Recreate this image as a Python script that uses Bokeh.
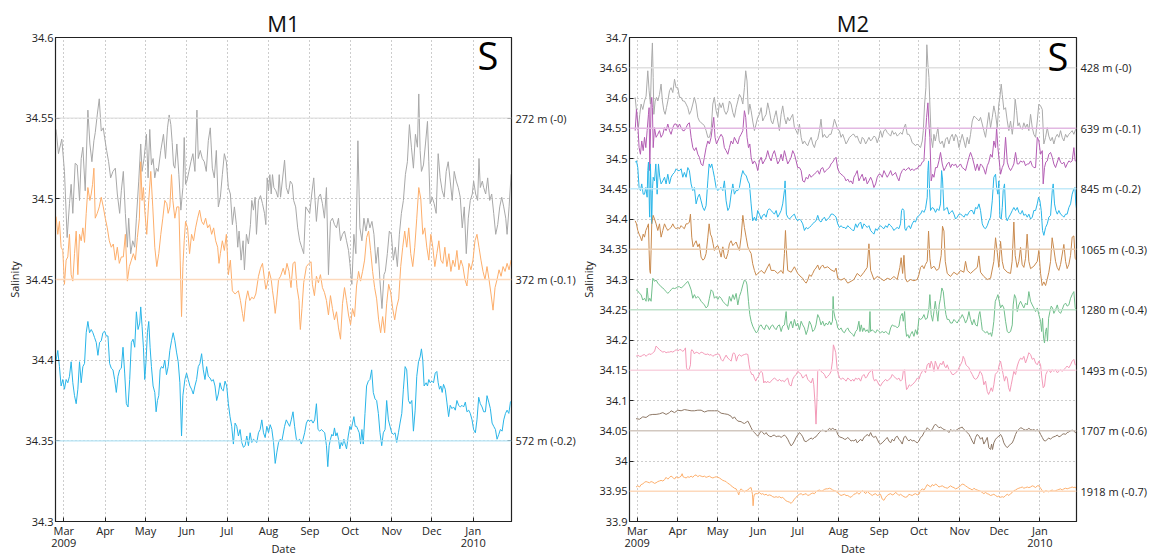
import pandas as pd
from bokeh.plotting import figure
from bokeh.layouts import row
from bokeh.models import Range1d, FixedTicker, CustomJSTickFormatter, LinearAxis, Span, Label
from bokeh.embed import file_html
from bokeh.resources import INLINE

FONT = "Open Sans"
base_date = "2009-03-01"          # day 0 of the day offsets below
month_starts = ["2009-03-01", "2009-04-01", "2009-05-01", "2009-06-01", "2009-07-01", "2009-08-01",
                "2009-09-01", "2009-10-01", "2009-11-01", "2009-12-01", "2010-01-01"]
month_names = ["Jan", "Feb", "Mar", "Apr", "May", "Jun", "Jul", "Aug", "Sep", "Oct", "Nov", "Dec"]

m1_xlim = (-6.2, 334.6)
m2_xlim = (-5.8, 333.8)
m1_ylim = (34.3, 34.6)
m2_ylim = (33.9, 34.7)
m1_yticks = [34.3, 34.35, 34.4, 34.45, 34.5, 34.55, 34.6]
m2_yticks = [33.9, 33.95, 34.0, 34.05, 34.1, 34.15, 34.2, 34.25, 34.3, 34.35, 34.4, 34.45, 34.5, 34.55, 34.6, 34.65, 34.7]

m1_depths = ["272 m (-0)", "372 m (-0.1)", "572 m (-0.2)"]
m1_levels = [34.55, 34.45, 34.35]
m2_depths = ["428 m (-0)", "639 m (-0.1)", "845 m (-0.2)", "1065 m (-0.3)", "1280 m (-0.4)",
             "1493 m (-0.5)", "1707 m (-0.6)", "1918 m (-0.7)"]
m2_levels = [34.65, 34.55, 34.45, 34.35, 34.25, 34.15, 34.05, 33.95]

# ---------------- M1 data: (day since 2009-03-01, salinity + offset) ----------------
m1_272 = [(-5.75,34.543),(-4,34.528),(-1.5,34.537),(0.5,34.517),(2.5,34.476),(4.25,34.497),(5.5,34.509),(6.75,34.491),
(8.5,34.522),(10,34.521),(11.75,34.499),(13,34.525),(14.25,34.532),(16,34.505),(18,34.555),(19.5,34.534),(21,34.523),
(22.5,34.536),(23.5,34.541),(25,34.552),(26.5,34.562),(28,34.542),(29.5,34.544),(30.5,34.538),(32,34.530),(33.5,34.523),
(35,34.513),(36.75,34.517),(38.5,34.519),(40,34.503),(41.75,34.491),(43,34.505),(44.5,34.517),(46,34.491),(47.5,34.470),
(48.5,34.488),(50,34.466),(51.5,34.474),(53,34.470),(54.25,34.488),(56,34.511),(57.5,34.534),(58.5,34.517),(60,34.525),
(61.75,34.540),(63,34.513),(64.25,34.543),(65.5,34.521),(66.75,34.525),(68,34.513),(69.25,34.519),(70.5,34.517),
(72.5,34.530),(74.5,34.540),(76,34.525),(77.5,34.544),(78.75,34.552),(80,34.546),(81,34.535),(82,34.521),(83,34.519),
(84.5,34.534),(86,34.515),(87.5,34.493),(89,34.507),(90,34.538),(91,34.509),(92,34.511),(93.5,34.517),(95,34.523),
(96.5,34.528),(98,34.517),(99.5,34.555),(100.5,34.525),(102,34.530),(103.5,34.525),(105,34.523),(106.5,34.517),
(108,34.536),(109.5,34.544),(111,34.519),(112.5,34.513),(114,34.530),(115.5,34.495),(117,34.501),(118.5,34.515),
(120,34.528),(121.5,34.523),(123,34.507),(124.5,34.503),(126,34.484),(127.5,34.495),(129,34.484),(130,34.470),
(131,34.480),(132.5,34.462),(134,34.474),(135,34.456),(136.5,34.478),(138,34.472),(139.5,34.484),(140.5,34.499),
(141.75,34.493),(143,34.501),(144,34.478),(145.5,34.499),(147,34.502),(148.5,34.497),(150,34.491),(151,34.484),
(152,34.513),(153,34.505),(154,34.515),(155,34.503),(156,34.515),(157,34.507),(158.5,34.505),(160,34.501),(161,34.515),
(162,34.501),(165,34.524),(166.3,34.507),(167.8,34.503),(169.3,34.511),(170.8,34.509),(171.8,34.499),(173.3,34.495),
(174.8,34.482),(176.3,34.474),(177.8,34.470),(179.3,34.466),(180.8,34.495),(182.3,34.493),(183.8,34.491),(185.3,34.503),
(186.8,34.513),(187.8,34.499),(188.8,34.486),(190.3,34.501),(191.8,34.503),(193.3,34.497),(194.8,34.488),(196.3,34.507),
(197.8,34.453),(199.3,34.486),(200.8,34.488),(202.3,34.484),(203.8,34.482),(205.3,34.488),(206.8,34.474),(208.3,34.478),
(209.8,34.480),(211.3,34.474),(212.8,34.468),(213.8,34.460),(215.3,34.447),(216.8,34.478),(218.3,34.466),(219.8,34.536),
(221.3,34.482),(222.8,34.474),(224.3,34.488),(225.8,34.480),(227.3,34.488),(228.8,34.482),(230.3,34.486),(231.8,34.478),
(233.3,34.460),(234.8,34.470),(236.3,34.449),(237.8,34.432),(239.3,34.453),(240.3,34.455),(241.8,34.466),(243.3,34.480),
(244.8,34.478),(246.3,34.462),(247.8,34.470),(249.3,34.458),(250.8,34.478),(252.3,34.491),(253.8,34.499),(255.3,34.515),
(256.8,34.523),(258.3,34.546),(259.8,34.532),(261.3,34.519),(262.8,34.540),(264.3,34.532),(265.3,34.565),(266.3,34.530),
(267.3,34.517),(268.8,34.521),(270.3,34.534),(271.8,34.548),(272.8,34.523),(273.8,34.497),(275.3,34.501),(276.8,34.497),
(278.3,34.491),(279.8,34.528),(281.3,34.513),(282.8,34.505),(284.3,34.501),(285.8,34.517),(287.3,34.523),(288.8,34.511),
(290.3,34.499),(291.8,34.517),(293.3,34.511),(294.8,34.507),(296.3,34.501),(297.8,34.482),(299.3,34.495),(300.8,34.466),
(302.3,34.488),(303.8,34.499),(305.3,34.503),(306.3,34.511),(307.8,34.503),(309.3,34.499),(310.3,34.525),(311.3,34.507),
(312.8,34.511),(313.8,34.507),(315.3,34.503),(316.8,34.513),(318.3,34.499),(319.8,34.503),(321.3,34.491),(322.8,34.478),
(324.3,34.484),(325.8,34.495),(327.3,34.501),(328.8,34.495),(330.3,34.488),(331.3,34.478),(332.8,34.495),(334.3,34.515),
(335.8,34.513)]

m1_372 = [(-5.75,34.489),(-4.5,34.478),(-3.25,34.486),(-2,34.470),(-0.75,34.468),(0.5,34.447),(1.75,34.462),(3,34.464),
(4.25,34.478),(5.5,34.453),(6.75,34.449),(8,34.466),(9.25,34.480),(10.5,34.453),(11.75,34.478),(13,34.474),(14.25,34.482),
(15.5,34.473),(16.75,34.491),(18,34.507),(19.5,34.499),(20.5,34.503),(21.5,34.509),(22.5,34.519),(23.5,34.488),(25,34.491),
(26.5,34.495),(28,34.501),(29.5,34.495),(31,34.488),(32.5,34.482),(34,34.474),(35.5,34.470),(37,34.472),(38.5,34.462),
(40,34.470),(41.5,34.460),(43,34.464),(44.5,34.464),(46,34.478),(47.5,34.449),(49,34.458),(50.5,34.462),(52,34.466),
(53.5,34.462),(55,34.476),(56.5,34.488),(57.5,34.523),(58.5,34.499),(59.5,34.507),(60.5,34.493),(62,34.478),(63.5,34.499),
(65,34.517),(66.5,34.495),(68,34.470),(69.5,34.458),(71,34.466),(72.5,34.478),(74,34.488),(75.5,34.499),(77,34.497),
(78,34.491),(79.25,34.495),(80.5,34.515),(81.5,34.499),(83,34.488),(84.5,34.495),(86,34.495),(87,34.462),(88,34.427),
(89,34.458),(90,34.474),(91,34.486),(92.5,34.482),(94,34.466),(95.5,34.478),(97,34.474),(98.5,34.482),(100,34.488),
(101.5,34.493),(103,34.486),(104.5,34.484),(106,34.488),(107.5,34.482),(109,34.484),(110.5,34.478),(112,34.482),
(113.5,34.474),(115,34.470),(116,34.460),(117,34.466),(118.5,34.474),(120,34.468),(121.5,34.478),(123,34.453),
(124.5,34.462),(126,34.443),(128,34.441),(130.5,34.443),(132,34.437),(133.5,34.429),(134.5,34.424),(136,34.437),
(137.5,34.443),(139,34.437),(140.5,34.439),(142,34.438),(143.5,34.441),(145.5,34.452),(147,34.457),(148.5,34.460),
(150,34.450),(151,34.444),(152,34.447),(153.5,34.455),(155,34.450),(156,34.443),(157,34.437),(158,34.429),(159,34.436),
(160.5,34.450),(162,34.452),(164,34.457),(165.3,34.453),(166.8,34.460),(168.3,34.455),(169.8,34.445),(171.3,34.460),
(172.8,34.461),(174.3,34.445),(175.8,34.437),(176.3,34.425),(176.8,34.419),(178,34.432),(179.3,34.448),(181.3,34.458),
(183.3,34.460),(184.8,34.461),(185.8,34.447),(187.3,34.440),(188.8,34.452),(190.3,34.448),(191.8,34.453),(193.3,34.445),
(194.8,34.442),(196.3,34.437),(197.8,34.428),(199.3,34.440),(200.8,34.432),(202.3,34.425),(203.8,34.430),(205.3,34.420),
(206.8,34.413),(208.3,34.435),(209.8,34.445),(211.3,34.437),(212.8,34.428),(214.3,34.422),(215.8,34.432),(217.3,34.427),
(218.8,34.446),(220.3,34.455),(221.8,34.449),(223.3,34.455),(224.8,34.462),(226.3,34.476),(227.8,34.480),(229.3,34.468),
(230.8,34.455),(232.3,34.445),(233.8,34.438),(235.3,34.425),(236.8,34.417),(238.3,34.427),(239.8,34.417),(241.3,34.435),
(242.8,34.447),(244.3,34.442),(245.8,34.432),(247.3,34.425),(248.8,34.433),(250.3,34.438),(251.8,34.458),(253.3,34.470),
(254.8,34.480),(256.3,34.470),(257.8,34.482),(259.3,34.466),(260.8,34.458),(262.3,34.470),(263.8,34.488),(265.3,34.507),
(266.8,34.500),(268.3,34.478),(269.8,34.482),(271.3,34.470),(272.8,34.462),(274.3,34.478),(275.8,34.470),(277.3,34.458),
(278.8,34.466),(280.3,34.474),(281.8,34.462),(283.3,34.460),(284.8,34.470),(286.3,34.458),(287.8,34.466),(289.3,34.455),
(290.8,34.462),(292.3,34.458),(293.8,34.468),(295.3,34.456),(296.8,34.462),(298.3,34.458),(299.8,34.450),(301.3,34.446),
(302.8,34.460),(304.3,34.456),(305.8,34.462),(307.3,34.474),(308.8,34.478),(310.3,34.470),(311.8,34.462),(313.3,34.455),
(314.8,34.450),(316.3,34.458),(317.8,34.450),(319.3,34.441),(320.8,34.431),(322.3,34.445),(323.8,34.450),(325.3,34.456),
(326.8,34.452),(328.3,34.458),(329.8,34.455),(331.3,34.460),(332.8,34.456),(334.3,34.462),(335.8,34.459)]

m1_572 = [(-5.75,34.400),(-4.5,34.406),(-3.25,34.396),(-2,34.384),(-0.75,34.388),(0.5,34.382),(1.75,34.388),(3,34.386),
(4.25,34.390),(5.5,34.399),(6.75,34.386),(8,34.378),(9.25,34.373),(10.5,34.382),(11.75,34.399),(13,34.386),(14.25,34.396),
(15.5,34.398),(16.75,34.417),(18,34.424),(19.25,34.417),(20.5,34.419),(21.75,34.417),(23,34.414),(24.25,34.411),
(25.5,34.403),(26.75,34.411),(28,34.412),(29.25,34.417),(30.5,34.418),(31.75,34.415),(33,34.415),(34.25,34.398),
(35.5,34.395),(36.75,34.394),(38,34.388),(39.25,34.380),(40.5,34.390),(41.75,34.394),(43,34.395),(44.25,34.408),
(45.5,34.392),(46.75,34.373),(48,34.371),(49.25,34.388),(50.5,34.411),(51.75,34.413),(53,34.408),(54.25,34.430),
(55.5,34.419),(56.75,34.423),(57.5,34.433),(58.5,34.421),(59.5,34.408),(60.5,34.388),(61.5,34.400),(62.5,34.417),
(63.5,34.424),(64.5,34.408),(65.5,34.396),(66.75,34.384),(68,34.380),(69,34.368),(70,34.375),(71,34.378),(72,34.394),
(73,34.396),(74.25,34.395),(75.5,34.400),(76.75,34.391),(78,34.396),(79.25,34.406),(80.5,34.412),(81.75,34.417),
(83,34.412),(84.25,34.405),(85.5,34.399),(86.75,34.386),(88,34.353),(89,34.378),(90.5,34.388),(91.75,34.392),(93,34.388),
(94.25,34.384),(95.5,34.382),(96.75,34.379),(98,34.384),(99.25,34.388),(100.5,34.396),(101.75,34.398),(103,34.404),
(104.25,34.394),(105.5,34.388),(106.75,34.396),(108,34.390),(109.25,34.389),(110.5,34.387),(111.75,34.388),(113,34.384),
(114.25,34.375),(115.5,34.379),(116.75,34.386),(118,34.382),(119.25,34.381),(120.5,34.387),(121.75,34.384),(123,34.373),
(124.25,34.365),(125.5,34.359),(126.75,34.348),(128,34.361),(129.25,34.359),(130.5,34.353),(131.75,34.357),(133,34.349),
(134.25,34.346),(135.5,34.347),(136.75,34.353),(138,34.347),(139.25,34.355),(140.5,34.349),(141.75,34.351),(143,34.350),
(144.25,34.349),(145.5,34.355),(146.75,34.357),(148,34.363),(149.25,34.355),(150.5,34.352),(151.75,34.359),(153,34.355),
(154.25,34.360),(155.5,34.357),(156.75,34.349),(158,34.336),(159.25,34.343),(160.5,34.349),(161.75,34.351),(163,34.350),
(165,34.359),(166.3,34.363),(167.5,34.361),(168.8,34.359),(170,34.363),(171.3,34.368),(172.5,34.359),(173.8,34.351),
(175,34.350),(176.3,34.351),(177.5,34.348),(178.8,34.351),(180,34.355),(181.3,34.361),(182.5,34.363),(183.8,34.362),
(185,34.363),(186.3,34.361),(187.5,34.363),(188.8,34.373),(190,34.357),(191.3,34.356),(192.5,34.357),(193.8,34.356),
(195,34.355),(196.3,34.347),(197.3,34.334),(198.3,34.347),(199.3,34.351),(200.3,34.354),(201.3,34.353),(202.3,34.358),
(203.3,34.353),(204.3,34.355),(205.3,34.351),(206.3,34.345),(207.3,34.349),(208.3,34.347),(209.3,34.351),(210.3,34.348),
(211.3,34.345),(212.6,34.353),(213.8,34.359),(214.8,34.357),(215.8,34.361),(216.8,34.365),(217.8,34.359),(218.8,34.359),
(219.8,34.357),(220.8,34.355),(221.8,34.348),(222.8,34.357),(223.8,34.348),(225.1,34.367),(226.3,34.384),(227.6,34.387),
(228.8,34.388),(230.1,34.394),(231.3,34.380),(232.6,34.376),(233.8,34.375),(235.1,34.367),(236.3,34.355),(237.6,34.347),
(238.8,34.355),(240.1,34.357),(241.3,34.375),(242.6,34.363),(243.8,34.359),(245.1,34.355),(246.3,34.354),(247.6,34.355),
(248.8,34.349),(250.1,34.355),(251.3,34.361),(252.6,34.367),(253.8,34.382),(255.1,34.396),(256.3,34.394),(257.6,34.375),
(258.8,34.373),(260.1,34.375),(261.3,34.356),(262.6,34.369),(263.8,34.390),(265.1,34.399),(266.3,34.402),(267.3,34.407),
(268.3,34.400),(269.3,34.384),(270.8,34.386),(271.8,34.384),(272.8,34.388),(273.8,34.386),(275.1,34.387),(276.3,34.386),
(277.6,34.392),(278.8,34.393),(279.8,34.386),(280.8,34.382),(281.8,34.384),(282.8,34.380),(283.8,34.385),(285.1,34.382),
(286.3,34.374),(287.6,34.365),(288.8,34.372),(290.1,34.370),(291.3,34.371),(292.6,34.369),(293.8,34.375),(295.1,34.372),
(296.3,34.371),(297.6,34.372),(298.8,34.371),(300.1,34.374),(301.3,34.368),(302.6,34.369),(303.8,34.367),(305.1,34.363),
(306.3,34.357),(307.6,34.355),(308.8,34.363),(310.1,34.377),(311.3,34.373),(312.6,34.371),(313.8,34.368),(315.1,34.368),
(316.3,34.378),(317.6,34.374),(318.8,34.370),(320.1,34.361),(321.3,34.359),(322.6,34.357),(323.8,34.351),(325.1,34.354),
(326.3,34.357),(327.6,34.356),(328.8,34.363),(330.1,34.367),(331.3,34.369),(332.6,34.367),(333.8,34.374),(335.8,34.376)]

# ---------------- M2 data ----------------
m2_428 = [(-1.5,34.601),(0.0,34.568),(1.0,34.551),(2.0,34.573),(3.0,34.590),(4.3,34.581),(5.6,34.595),(6.8,34.603),
(8.1,34.645),(9.1,34.612),(10.1,34.590),(11.1,34.666),(11.6,34.691),(12.2,34.634),(12.7,34.573),(13.7,34.595),(14.7,34.601),
(15.7,34.595),(17.0,34.606),(18.2,34.623),(19.2,34.595),(20.3,34.579),(21.3,34.573),(22.3,34.584),(23.3,34.595),(24.6,34.612),
(25.8,34.617),(27.1,34.609),(28.4,34.631),(29.6,34.617),(30.9,34.617),(32.2,34.601),(33.4,34.601),(34.7,34.595),(35.9,34.595),
(37.2,34.590),(38.5,34.584),(39.7,34.573),(41.0,34.579),(42.3,34.590),(43.5,34.601),(44.8,34.590),(46.1,34.568),(47.3,34.562),
(48.6,34.559),(49.9,34.557),(51.1,34.554),(52.4,34.546),(53.7,34.535),(54.9,34.535),(56.2,34.546),(57.5,34.590),(58.7,34.601),
(60.0,34.579),(61.3,34.568),(62.5,34.592),(63.8,34.584),(65.1,34.592),(66.3,34.579),(67.6,34.573),(68.9,34.579),(70.1,34.595),
(71.4,34.590),(72.7,34.576),(73.9,34.568),(75.2,34.584),(76.5,34.595),(77.7,34.606),(79.0,34.601),(80.3,34.590),(81.5,34.617),
(82.5,34.645),(83.5,34.628),(84.6,34.573),(85.6,34.590),(86.6,34.579),(87.8,34.562),(89.1,34.546),(90.4,34.557),(91.6,34.568),
(92.9,34.573),(94.2,34.584),(95.4,34.562),(96.7,34.568),(98.0,34.573),(99.2,34.592),(100.5,34.579),(101.8,34.562),
(103.0,34.557),(104.3,34.568),(105.6,34.579),(106.8,34.562),(108.1,34.546),(109.4,34.573),(110.6,34.587),(111.9,34.568),
(113.2,34.557),(114.4,34.568),(115.7,34.562),(117.0,34.568),(118.2,34.573),(119.5,34.551),(120.8,34.546),(122.0,34.540),
(123.3,34.557),(124.6,34.535),(125.8,34.524),(127.1,34.529),(128.4,34.524),(129.6,34.521),(130.9,34.529),(132.2,34.535),
(133.4,34.524),(134.7,34.518),(135.9,34.529),(137.2,34.532),(138.5,34.546),(139.7,34.565),(141.0,34.535),(142.3,34.540),
(143.5,34.535),(144.8,34.535),(146.1,34.540),(147.3,34.540),(148.6,34.551),(149.9,34.565),(151.1,34.557),(152.4,34.548),
(153.7,34.546),(154.9,34.535),(156.2,34.540),(157.5,34.532),(158.7,34.524),(160.0,34.529),(161.3,34.535),(162.5,34.537),
(163.8,34.540),(164.7,34.540),(166.0,34.535),(167.2,34.537),(168.5,34.529),(169.8,34.524),(171.0,34.535),(172.3,34.532),
(173.6,34.524),(174.8,34.529),(176.1,34.535),(177.4,34.529),(178.6,34.532),(179.9,34.537),(181.2,34.535),(182.4,34.526),
(183.7,34.535),(184.9,34.546),(186.2,34.535),(187.5,34.546),(188.8,34.548),(190.0,34.543),(191.3,34.540),(192.6,34.537),
(193.8,34.546),(195.1,34.540),(196.3,34.543),(197.6,34.537),(198.9,34.540),(200.1,34.543),(201.4,34.540),(202.7,34.551),
(203.9,34.557),(205.2,34.540),(206.5,34.540),(207.7,34.535),(209.0,34.526),(210.3,34.524),(211.5,34.521),(212.8,34.524),
(214.1,34.521),(215.3,34.518),(216.6,34.529),(217.4,34.546),(218.4,34.590),(219.4,34.617),(220.1,34.688),(220.9,34.656),
(221.7,34.634),(222.4,34.590),(223.4,34.535),(224.5,34.518),(225.5,34.540),(226.5,34.529),(227.5,34.540),(228.5,34.551),
(229.5,34.529),(230.5,34.524),(231.8,34.529),(233.1,34.518),(234.3,34.532),(235.6,34.535),(236.9,34.524),(238.1,34.535),
(239.4,34.540),(240.7,34.529),(241.9,34.540),(243.2,34.535),(244.5,34.518),(245.7,34.529),(247.0,34.540),(248.3,34.529),
(249.5,34.518),(250.8,34.535),(252.1,34.524),(253.3,34.540),(254.6,34.562),(255.9,34.570),(257.1,34.568),(258.4,34.565),
(259.7,34.562),(260.9,34.568),(262.2,34.557),(263.4,34.546),(264.7,34.535),(266.0,34.557),(267.2,34.576),(268.5,34.551),
(269.8,34.568),(271.0,34.587),(272.3,34.573),(273.6,34.551),(274.8,34.590),(275.6,34.601),(276.6,34.623),(277.4,34.606),
(278.6,34.581),(279.9,34.584),(281.2,34.562),(282.4,34.546),(283.7,34.562),(285.0,34.540),(286.2,34.562),(287.2,34.598),
(288.3,34.579),(289.3,34.554),(290.3,34.559),(291.3,34.551),(292.6,34.548),(293.8,34.559),(295.1,34.551),(296.4,34.557),
(297.6,34.546),(298.9,34.573),(300.2,34.551),(301.4,34.540),(302.7,34.535),(304.0,34.562),(305.2,34.590),(306.5,34.587),
(307.8,34.581),(309.0,34.524),(310.3,34.535),(311.6,34.551),(312.8,34.537),(314.1,34.529),(315.4,34.535),(316.6,34.524),
(317.9,34.535),(319.2,34.540),(320.4,34.535),(321.7,34.546),(322.9,34.535),(324.2,34.529),(325.5,34.540),(326.7,34.535),
(328.0,34.540),(329.3,34.543),(330.5,34.546),(331.8,34.540),(333.1,34.548),(333.8,34.546)]

m2_639 = [(-1.5,34.546),(-0.5,34.581),(0.5,34.557),(1.5,34.518),(2.5,34.507),(3.5,34.529),(4.6,34.513),(5.6,34.535),
(6.6,34.518),(7.6,34.546),(8.6,34.573),(9.1,34.584),(9.6,34.480),(10.6,34.590),(11.1,34.601),(11.6,34.584),(12.2,34.518),
(13.2,34.551),(14.4,34.535),(15.7,34.540),(17.0,34.546),(18.2,34.535),(19.5,34.540),(20.8,34.551),(22.0,34.546),(23.3,34.557),
(24.6,34.546),(25.8,34.540),(27.1,34.551),(28.4,34.557),(29.6,34.557),(30.9,34.551),(32.2,34.557),(33.4,34.551),(34.7,34.546),
(35.9,34.546),(37.2,34.551),(38.5,34.557),(39.7,34.559),(41.0,34.535),(42.3,34.518),(43.5,34.513),(44.8,34.518),(46.1,34.507),
(47.3,34.502),(48.6,34.491),(49.9,34.488),(51.1,34.502),(52.4,34.518),(53.7,34.529),(54.9,34.524),(56.2,34.535),(57.5,34.557),
(58.2,34.568),(59.2,34.535),(60.3,34.524),(61.3,34.529),(62.5,34.535),(63.8,34.540),(65.1,34.535),(66.3,34.518),(67.6,34.513),
(68.9,34.507),(70.1,34.518),(71.4,34.529),(72.7,34.524),(73.9,34.535),(75.2,34.529),(76.5,34.524),(77.7,34.535),(79.0,34.540),
(80.3,34.546),(81.5,34.579),(82.5,34.568),(83.5,34.535),(84.6,34.518),(85.6,34.524),(86.6,34.502),(87.8,34.491),(89.1,34.496),
(90.4,34.491),(91.6,34.480),(92.9,34.496),(94.2,34.502),(95.4,34.491),(96.7,34.496),(98.0,34.502),(99.2,34.513),(100.5,34.502),
(101.8,34.496),(103.0,34.507),(104.3,34.513),(105.6,34.502),(106.8,34.491),(108.1,34.496),(109.4,34.507),(110.6,34.496),
(111.9,34.513),(113.2,34.502),(114.4,34.491),(115.7,34.496),(117.0,34.502),(118.2,34.513),(119.5,34.507),(120.8,34.496),
(122.0,34.485),(123.3,34.485),(124.6,34.480),(125.8,34.463),(127.1,34.461),(128.4,34.469),(129.6,34.466),(130.9,34.474),
(132.2,34.469),(133.4,34.472),(134.7,34.474),(135.9,34.477),(137.2,34.480),(138.5,34.474),(139.7,34.483),(141.0,34.485),
(142.3,34.477),(143.5,34.480),(144.8,34.483),(146.1,34.485),(147.3,34.491),(148.6,34.494),(149.9,34.499),(151.1,34.502),
(152.4,34.483),(153.7,34.477),(154.9,34.474),(156.2,34.472),(157.5,34.469),(158.7,34.463),(160.0,34.466),(161.3,34.461),
(162.5,34.463),(163.8,34.458),(164.7,34.469),(166.0,34.474),(167.2,34.480),(168.5,34.463),(169.8,34.469),(171.0,34.474),
(172.3,34.463),(173.6,34.469),(174.8,34.458),(176.1,34.463),(177.4,34.469),(178.6,34.463),(179.9,34.452),(181.2,34.458),
(182.4,34.469),(183.7,34.474),(184.9,34.474),(186.2,34.469),(187.5,34.480),(188.8,34.474),(190.0,34.469),(191.3,34.474),
(192.6,34.480),(193.8,34.472),(195.1,34.474),(196.3,34.477),(197.6,34.469),(198.9,34.463),(200.1,34.474),(201.4,34.480),
(202.7,34.483),(203.9,34.480),(205.2,34.483),(206.5,34.485),(207.7,34.480),(209.0,34.483),(210.3,34.480),(211.5,34.483),
(212.8,34.483),(214.1,34.488),(215.3,34.488),(216.6,34.494),(217.9,34.496),(218.9,34.535),(219.9,34.568),(220.9,34.592),
(221.7,34.557),(222.4,34.535),(223.4,34.463),(224.5,34.474),(225.5,34.469),(226.7,34.485),(228.0,34.485),(229.3,34.496),
(230.5,34.510),(231.8,34.491),(233.1,34.480),(234.3,34.485),(235.6,34.491),(236.9,34.494),(238.1,34.485),(239.4,34.491),
(240.7,34.488),(241.9,34.491),(243.2,34.485),(244.5,34.488),(245.7,34.491),(247.0,34.485),(248.3,34.483),(249.5,34.480),
(250.8,34.491),(252.1,34.502),(253.3,34.510),(254.6,34.502),(255.9,34.491),(257.1,34.480),(258.4,34.491),(259.7,34.480),
(260.9,34.491),(262.2,34.488),(263.4,34.483),(264.7,34.474),(266.0,34.488),(267.2,34.494),(268.5,34.507),(269.8,34.502),
(271.0,34.529),(272.3,34.518),(273.1,34.551),(274.1,34.518),(275.1,34.496),(276.1,34.474),(277.4,34.485),(278.6,34.491),
(279.9,34.535),(281.2,34.494),(282.4,34.485),(283.7,34.480),(285.0,34.485),(286.2,34.491),(287.5,34.510),(288.8,34.491),
(290.0,34.491),(291.3,34.496),(292.6,34.494),(293.8,34.496),(295.1,34.488),(296.4,34.491),(297.6,34.491),(298.9,34.496),
(300.2,34.488),(301.4,34.485),(302.7,34.485),(304.0,34.535),(305.2,34.529),(306.5,34.507),(307.8,34.513),(308.5,34.458),
(309.5,34.485),(310.5,34.494),(311.6,34.496),(312.8,34.507),(314.1,34.510),(315.4,34.502),(316.6,34.491),(317.9,34.485),
(319.2,34.494),(320.4,34.502),(321.7,34.494),(322.9,34.491),(324.2,34.494),(325.5,34.485),(326.7,34.491),(328.0,34.496),
(329.3,34.494),(330.5,34.496),(331.8,34.518),(332.8,34.496),(333.8,34.496)]

m2_845 = [(-1.5,34.494),(-0.5,34.496),(0.5,34.485),(1.5,34.452),(2.5,34.447),(3.5,34.458),(4.6,34.441),(5.6,34.441),
(6.6,34.452),(7.6,34.436),(8.1,34.480),(8.6,34.494),(9.4,34.408),(9.6,34.403),(10.1,34.491),(10.6,34.447),(11.1,34.392),
(11.6,34.447),(12.2,34.469),(13.2,34.463),(14.2,34.491),(15.2,34.441),(16.2,34.491),(17.2,34.469),(18.2,34.458),(19.5,34.463),
(20.8,34.469),(22.0,34.458),(23.3,34.474),(24.6,34.458),(25.8,34.469),(27.1,34.474),(28.4,34.477),(29.6,34.483),(30.9,34.480),
(32.2,34.480),(33.4,34.483),(34.7,34.469),(35.9,34.477),(37.2,34.469),(38.5,34.485),(39.7,34.480),(41.0,34.458),(42.3,34.447),
(43.5,34.452),(44.8,34.425),(46.1,34.436),(47.3,34.441),(48.6,34.430),(49.9,34.419),(51.1,34.414),(52.4,34.422),(53.7,34.463),
(54.7,34.491),(55.7,34.485),(56.7,34.491),(57.7,34.480),(58.7,34.469),(60.0,34.452),(61.3,34.447),(62.5,34.450),(63.8,34.452),
(65.1,34.447),(66.3,34.463),(67.6,34.430),(68.9,34.414),(70.1,34.419),(71.4,34.441),(72.7,34.458),(73.9,34.441),(75.2,34.447),
(76.5,34.447),(77.7,34.452),(79.0,34.469),(80.3,34.480),(81.5,34.474),(82.8,34.472),(84.1,34.463),(85.3,34.458),(86.6,34.425),
(87.8,34.397),(89.1,34.403),(90.4,34.397),(91.6,34.414),(92.9,34.408),(94.2,34.400),(95.4,34.406),(96.7,34.408),(98.0,34.403),
(99.2,34.414),(100.5,34.417),(101.8,34.414),(103.0,34.411),(104.3,34.408),(105.6,34.414),(106.8,34.403),(108.1,34.408),
(109.4,34.414),(110.6,34.425),(111.9,34.447),(112.4,34.463),(113.4,34.408),(114.4,34.403),(115.7,34.400),(117.0,34.403),
(118.2,34.406),(119.5,34.408),(120.8,34.400),(122.0,34.397),(123.3,34.400),(124.6,34.397),(125.8,34.392),(127.1,34.381),
(128.4,34.386),(129.6,34.384),(130.9,34.386),(132.2,34.389),(133.4,34.392),(134.7,34.395),(135.9,34.397),(137.2,34.406),
(138.5,34.397),(139.7,34.395),(141.0,34.400),(142.3,34.403),(143.5,34.397),(144.8,34.400),(146.1,34.403),(147.3,34.408),
(148.6,34.408),(149.9,34.406),(151.1,34.403),(152.4,34.392),(153.7,34.386),(154.9,34.389),(156.2,34.386),(157.5,34.386),
(158.7,34.384),(160.0,34.389),(161.3,34.386),(162.5,34.384),(163.8,34.381),(164.7,34.381),(166.0,34.392),(167.2,34.386),
(168.5,34.392),(169.8,34.395),(171.0,34.384),(172.3,34.392),(173.6,34.389),(174.8,34.386),(176.1,34.389),(177.4,34.381),
(178.6,34.378),(179.9,34.375),(181.2,34.384),(182.4,34.381),(183.7,34.386),(184.9,34.389),(186.2,34.386),(187.5,34.384),
(188.8,34.389),(190.0,34.386),(191.3,34.392),(192.6,34.389),(193.8,34.386),(195.1,34.381),(196.3,34.384),(197.6,34.386),
(198.9,34.384),(200.1,34.392),(200.9,34.414),(201.7,34.417),(202.7,34.414),(203.4,34.384),(204.2,34.381),(205.2,34.386),
(206.5,34.389),(207.7,34.384),(209.0,34.392),(210.3,34.397),(211.5,34.395),(212.8,34.403),(214.1,34.406),(215.3,34.408),
(216.6,34.414),(217.9,34.411),(219.1,34.417),(220.4,34.436),(220.9,34.480),(221.4,34.496),(221.9,34.463),(222.9,34.414),
(224.2,34.419),(225.5,34.417),(226.7,34.411),(228.0,34.417),(229.3,34.414),(230.5,34.425),(231.3,34.480),(232.0,34.466),
(233.1,34.414),(234.3,34.417),(235.6,34.419),(236.9,34.408),(238.1,34.411),(239.4,34.414),(240.7,34.408),(241.9,34.400),
(243.2,34.403),(244.5,34.408),(245.7,34.408),(247.0,34.406),(248.3,34.403),(249.5,34.408),(250.8,34.406),(252.1,34.411),
(253.3,34.414),(254.6,34.414),(255.9,34.408),(257.1,34.419),(258.4,34.417),(259.7,34.425),(260.9,34.414),(262.2,34.392),
(263.4,34.386),(264.7,34.384),(266.0,34.389),(267.2,34.397),(268.5,34.403),(269.8,34.430),(271.0,34.469),(272.3,34.474),
(273.1,34.452),(274.1,34.441),(274.8,34.463),(275.6,34.403),(276.6,34.400),(277.4,34.419),(278.1,34.447),(279.1,34.458),
(280.2,34.403),(281.2,34.397),(282.4,34.403),(283.7,34.408),(285.0,34.414),(286.2,34.419),(287.5,34.414),(288.8,34.419),
(290.0,34.411),(291.3,34.408),(292.6,34.414),(293.8,34.406),(295.1,34.408),(296.4,34.403),(297.6,34.408),(298.9,34.400),
(300.2,34.403),(301.4,34.414),(302.7,34.414),(304.0,34.425),(305.0,34.436),(306.0,34.430),(307.0,34.414),(308.0,34.381),
(309.0,34.373),(310.3,34.386),(311.6,34.392),(312.8,34.403),(314.1,34.406),(315.4,34.447),(316.1,34.458),(317.1,34.425),
(318.1,34.414),(319.2,34.408),(320.4,34.414),(321.7,34.408),(322.9,34.406),(324.2,34.403),(325.5,34.408),(326.7,34.408),
(328.0,34.419),(329.3,34.425),(330.5,34.441),(331.8,34.450),(332.6,34.452),(333.3,34.425),(333.8,34.417)]

m2_1065 = [(-1.5,34.397),(-0.5,34.392),(0.5,34.381),(1.5,34.375),(2.5,34.370),(3.5,34.364),(4.6,34.375),(5.6,34.370),
(6.6,34.381),(7.6,34.386),(8.6,34.392),(9.1,34.348),(9.6,34.315),(10.1,34.310),(10.6,34.348),(11.1,34.392),(12.2,34.406),
(13.2,34.400),(14.4,34.392),(15.7,34.381),(17.0,34.392),(18.2,34.370),(19.5,34.381),(20.8,34.392),(22.0,34.386),(23.3,34.381),
(24.6,34.384),(25.8,34.386),(27.1,34.392),(28.4,34.386),(29.6,34.384),(30.9,34.386),(32.2,34.384),(33.4,34.389),(34.7,34.386),
(35.9,34.384),(37.2,34.392),(38.5,34.392),(39.7,34.395),(40.5,34.408),(41.5,34.370),(42.5,34.354),(43.5,34.359),(44.8,34.364),
(46.1,34.354),(47.3,34.359),(48.6,34.337),(49.9,34.332),(51.1,34.334),(52.4,34.343),(53.7,34.370),(54.7,34.392),(55.7,34.375),
(56.7,34.370),(57.7,34.359),(58.7,34.348),(60.0,34.354),(61.3,34.356),(62.5,34.348),(63.8,34.337),(65.1,34.354),(66.3,34.337),
(67.6,34.334),(68.9,34.343),(70.1,34.359),(71.4,34.364),(72.7,34.356),(73.9,34.359),(75.2,34.362),(76.5,34.354),(77.7,34.348),
(79.0,34.370),(80.3,34.406),(81.5,34.386),(82.8,34.370),(84.1,34.354),(85.3,34.348),(86.6,34.343),(87.8,34.326),(89.1,34.315),
(90.4,34.307),(91.6,34.310),(92.9,34.312),(94.2,34.315),(96.7,34.310),(99.2,34.321),(100.5,34.326),(101.8,34.315),
(104.3,34.315),(106.8,34.310),(109.4,34.315),(110.9,34.310),(111.9,34.343),(112.7,34.381),(113.4,34.348),(114.4,34.315),
(117.0,34.312),(119.5,34.321),(122.0,34.310),(124.6,34.304),(125.8,34.302),(127.1,34.297),(128.4,34.294),(129.6,34.299),
(130.9,34.308),(132.2,34.305),(133.4,34.310),(134.7,34.316),(135.9,34.319),(137.2,34.324),(138.5,34.316),(139.7,34.321),
(141.0,34.324),(142.3,34.319),(144.8,34.321),(147.3,34.316),(149.9,34.313),(151.1,34.319),(152.4,34.302),(154.9,34.299),
(157.5,34.302),(160.0,34.294),(162.5,34.297),(164.7,34.300),(167.2,34.310),(169.8,34.305),(172.3,34.312),(174.8,34.320),
(176.1,34.359),(177.4,34.315),(179.9,34.300),(182.4,34.305),(184.9,34.302),(187.5,34.298),(190.0,34.302),(192.5,34.300),
(195.1,34.305),(197.6,34.300),(199.6,34.320),(200.6,34.336),(201.7,34.310),(202.7,34.340),(203.7,34.302),(205.2,34.296),
(207.7,34.300),(210.3,34.298),(212.8,34.300),(214.1,34.308),(215.3,34.320),(216.6,34.323),(217.9,34.318),(219.1,34.325),
(220.4,34.330),(221.4,34.380),(222.4,34.335),(223.4,34.318),(225.5,34.322),(227.5,34.315),(229.3,34.318),(231.0,34.340),
(232.0,34.388),(233.1,34.380),(234.1,34.330),(235.6,34.310),(238.1,34.305),(240.6,34.312),(243.2,34.308),(245.7,34.315),
(248.2,34.312),(249.5,34.330),(250.8,34.315),(253.3,34.310),(255.8,34.315),(258.4,34.320),(259.6,34.339),(260.9,34.312),
(263.4,34.305),(266.0,34.300),(268.5,34.302),(271.0,34.330),(272.3,34.369),(273.6,34.345),(274.8,34.320),(276.1,34.363),
(277.4,34.330),(278.6,34.318),(281.2,34.312),(283.7,34.310),(284.9,34.330),(286.2,34.395),(287.2,34.340),(288.7,34.320),
(290.0,34.330),(291.3,34.353),(292.5,34.325),(293.8,34.320),(295.1,34.335),(296.3,34.375),(297.6,34.330),(298.9,34.318),
(301.4,34.322),(304.0,34.330),(305.2,34.348),(306.5,34.310),(307.7,34.290),(309.0,34.296),(310.3,34.290),(311.5,34.300),
(312.8,34.312),(314.1,34.330),(315.3,34.369),(316.6,34.350),(317.9,34.330),(319.1,34.320),(320.4,34.315),(321.7,34.325),
(324.2,34.358),(325.5,34.330),(326.7,34.318),(328.0,34.325),(329.3,34.340),(330.5,34.370),(331.8,34.372),(332.8,34.335),
(333.8,34.332)]

m2_1280 = [(-0.8,34.283),(0.5,34.281),(1.8,34.277),(3.0,34.275),(4.3,34.266),(5.6,34.269),(6.8,34.264),(7.6,34.286),
(8.6,34.264),(9.6,34.269),(10.6,34.264),(11.9,34.302),(13.2,34.297),(14.4,34.299),(15.7,34.294),(17.0,34.291),(18.2,34.288),
(19.5,34.286),(20.8,34.283),(22.0,34.280),(23.3,34.277),(24.6,34.280),(25.8,34.283),(27.1,34.286),(28.4,34.285),(29.6,34.286),
(30.9,34.288),(32.2,34.288),(33.4,34.286),(34.7,34.288),(35.9,34.291),(37.2,34.294),(38.5,34.297),(39.7,34.291),(41.0,34.283),
(42.3,34.269),(43.5,34.275),(44.8,34.269),(46.1,34.272),(47.3,34.269),(48.6,34.264),(49.9,34.261),(51.1,34.258),(52.4,34.253),
(53.7,34.256),(54.9,34.269),(56.2,34.283),(57.5,34.280),(58.7,34.269),(60.0,34.272),(61.3,34.267),(62.5,34.272),(63.8,34.269),
(65.1,34.264),(66.3,34.261),(67.6,34.258),(68.9,34.256),(70.1,34.272),(71.4,34.264),(72.7,34.275),(73.9,34.267),(75.2,34.277),
(76.5,34.258),(77.7,34.272),(79.0,34.280),(80.3,34.291),(81.5,34.299),(82.8,34.297),(83.5,34.291),(84.6,34.264),(85.6,34.242),
(86.6,34.231),(87.8,34.223),(89.1,34.217),(90.4,34.212),(91.6,34.214),(92.9,34.223),(94.2,34.225),(95.4,34.220),(96.7,34.217),
(98.0,34.225),(99.2,34.223),(100.5,34.217),(101.8,34.223),(103.0,34.225),(104.3,34.220),(105.6,34.217),(106.8,34.223),
(108.1,34.225),(109.4,34.214),(110.6,34.223),(111.9,34.225),(113.2,34.247),(113.9,34.225),(115.0,34.217),(115.7,34.225),
(117.0,34.231),(118.2,34.220),(119.5,34.234),(120.8,34.223),(122.0,34.228),(123.3,34.217),(124.6,34.231),(125.8,34.225),
(127.1,34.220),(128.4,34.209),(129.6,34.217),(130.9,34.231),(132.2,34.225),(133.4,34.214),(134.7,34.217),(135.9,34.225),
(137.2,34.242),(138.5,34.236),(139.7,34.225),(141.0,34.231),(142.3,34.223),(143.5,34.228),(144.8,34.225),(146.1,34.231),
(147.3,34.225),(148.4,34.231),(148.9,34.272),(149.4,34.247),(150.4,34.236),(151.4,34.231),(152.4,34.220),(153.7,34.217),
(154.9,34.220),(156.2,34.214),(157.5,34.212),(158.7,34.217),(160.0,34.220),(161.3,34.214),(162.5,34.212),(163.8,34.209),
(164.7,34.206),(166.0,34.214),(167.2,34.217),(168.5,34.231),(169.3,34.214),(170.3,34.225),(171.3,34.214),(172.3,34.220),
(173.6,34.214),(174.8,34.217),(176.1,34.212),(176.9,34.247),(177.4,34.214),(178.6,34.217),(179.9,34.214),(181.2,34.212),
(182.4,34.217),(183.7,34.214),(184.9,34.212),(186.2,34.214),(187.5,34.212),(188.8,34.214),(190.0,34.212),(191.3,34.209),
(192.6,34.220),(193.8,34.225),(195.1,34.223),(196.3,34.223),(197.6,34.220),(198.9,34.223),(200.1,34.239),(201.4,34.244),
(202.2,34.231),(203.2,34.247),(203.9,34.220),(204.7,34.206),(205.7,34.209),(206.7,34.203),(207.7,34.209),(209.0,34.214),
(210.3,34.206),(211.5,34.217),(212.8,34.209),(214.1,34.236),(215.3,34.234),(216.6,34.236),(217.9,34.242),(219.1,34.234),
(220.4,34.236),(221.7,34.253),(222.4,34.275),(223.4,34.242),(224.5,34.231),(225.5,34.247),(226.5,34.264),(227.5,34.247),
(228.5,34.231),(229.5,34.258),(230.5,34.269),(231.5,34.286),(232.6,34.280),(233.6,34.258),(234.6,34.242),(235.6,34.234),
(236.9,34.234),(238.1,34.228),(239.4,34.228),(240.7,34.234),(241.9,34.231),(243.2,34.228),(244.5,34.234),(245.7,34.236),
(247.0,34.242),(248.3,34.236),(249.5,34.228),(250.8,34.234),(252.1,34.247),(253.3,34.234),(254.6,34.225),(255.9,34.234),
(257.1,34.225),(258.4,34.223),(259.7,34.242),(260.4,34.247),(261.4,34.231),(262.2,34.217),(263.4,34.214),(264.7,34.212),
(266.0,34.214),(267.2,34.209),(268.5,34.212),(269.3,34.206),(270.0,34.214),(271.0,34.231),(272.1,34.264),(273.1,34.269),
(274.1,34.275),(275.1,34.264),(276.1,34.253),(277.4,34.258),(278.6,34.253),(279.9,34.231),(281.2,34.214),(282.4,34.212),
(283.7,34.214),(285.0,34.225),(285.7,34.258),(286.7,34.275),(287.8,34.269),(288.8,34.247),(290.0,34.258),(291.3,34.264),
(292.6,34.258),(293.8,34.253),(295.1,34.261),(296.4,34.258),(297.6,34.280),(298.9,34.264),(300.2,34.258),(301.4,34.253),
(302.7,34.247),(304.0,34.253),(305.2,34.242),(306.5,34.231),(307.3,34.214),(308.0,34.236),(308.8,34.203),(309.5,34.195),
(310.3,34.214),(311.0,34.220),(311.8,34.198),(312.6,34.236),(313.6,34.247),(314.6,34.256),(315.6,34.253),(316.6,34.244),
(317.9,34.250),(319.2,34.258),(320.4,34.247),(321.7,34.244),(322.9,34.250),(324.2,34.258),(325.5,34.261),(326.7,34.256),
(328.0,34.258),(329.3,34.269),(330.5,34.275),(331.8,34.280),(332.8,34.253),(333.8,34.247)]

m2_1493 = [(-0.8,34.173),(0.5,34.175),(1.8,34.173),(3.0,34.173),(4.3,34.175),(5.6,34.176),(6.8,34.173),(8.1,34.176),
(9.4,34.177),(10.6,34.176),(11.9,34.179),(13.2,34.181),(14.4,34.190),(15.7,34.187),(17.0,34.184),(18.2,34.182),(19.5,34.180),
(20.8,34.181),(22.0,34.179),(23.3,34.180),(24.6,34.180),(25.8,34.181),(27.1,34.180),(28.4,34.182),(29.6,34.184),(30.9,34.182),
(32.2,34.184),(33.4,34.184),(34.7,34.181),(35.9,34.184),(36.7,34.187),(37.5,34.154),(38.5,34.150),(39.5,34.151),(40.5,34.159),
(41.0,34.181),(41.5,34.184),(42.5,34.182),(43.5,34.177),(44.8,34.180),(46.1,34.179),(47.3,34.177),(48.6,34.180),(49.9,34.179),
(51.1,34.177),(52.4,34.176),(53.7,34.177),(54.9,34.175),(56.2,34.176),(57.5,34.173),(58.7,34.175),(60.0,34.176),(61.3,34.177),
(62.5,34.176),(63.8,34.168),(65.1,34.165),(66.3,34.170),(67.6,34.175),(68.9,34.170),(70.1,34.168),(71.4,34.165),(72.7,34.177),
(73.4,34.179),(74.4,34.176),(75.4,34.165),(76.5,34.173),(77.7,34.176),(79.0,34.173),(80.3,34.175),(81.5,34.176),(82.8,34.177),
(84.1,34.176),(85.1,34.159),(86.1,34.148),(87.1,34.143),(88.1,34.143),(89.1,34.137),(90.1,34.132),(91.1,34.137),(92.2,34.140),
(93.2,34.146),(94.2,34.148),(95.2,34.146),(96.2,34.129),(97.2,34.132),(98.2,34.129),(99.2,34.132),(100.5,34.129),
(101.8,34.132),(103.0,34.135),(104.3,34.137),(105.6,34.135),(106.8,34.132),(108.1,34.135),(109.4,34.132),(110.6,34.133),
(111.9,34.131),(113.2,34.135),(114.4,34.137),(115.7,34.126),(117.0,34.124),(118.2,34.135),(119.5,34.140),(120.8,34.143),
(122.0,34.148),(123.3,34.146),(124.6,34.143),(125.8,34.137),(127.1,34.140),(128.4,34.143),(129.6,34.135),(130.9,34.132),
(132.2,34.129),(133.4,34.137),(134.2,34.126),(135.2,34.094),(135.9,34.061),(136.7,34.105),(137.2,34.148),(138.5,34.151),
(139.7,34.148),(141.0,34.146),(142.3,34.143),(143.5,34.137),(144.8,34.140),(146.1,34.143),(147.3,34.148),(148.4,34.165),
(149.1,34.192),(149.9,34.187),(150.9,34.179),(151.9,34.154),(152.9,34.143),(153.9,34.137),(154.9,34.135),(156.2,34.137),
(157.5,34.135),(158.7,34.132),(160.0,34.137),(161.3,34.135),(162.5,34.132),(163.8,34.135),(164.7,34.132),(166.0,34.137),
(167.2,34.135),(168.5,34.137),(169.8,34.132),(171.0,34.140),(172.3,34.143),(173.6,34.137),(174.8,34.140),(176.1,34.146),
(177.4,34.148),(178.6,34.151),(179.4,34.137),(180.4,34.132),(181.4,34.135),(182.4,34.132),(183.7,34.126),(184.9,34.124),
(186.2,34.129),(187.5,34.132),(188.8,34.135),(190.0,34.132),(191.3,34.135),(192.6,34.137),(193.8,34.143),(195.1,34.140),
(196.3,34.137),(197.6,34.135),(198.9,34.137),(200.1,34.132),(201.4,34.135),(202.2,34.148),(203.2,34.151),(203.9,34.132),
(204.7,34.118),(205.7,34.121),(206.7,34.126),(207.7,34.124),(209.0,34.126),(210.3,34.129),(211.5,34.132),(212.8,34.137),
(214.1,34.135),(215.3,34.143),(216.6,34.148),(217.9,34.151),(219.1,34.146),(220.4,34.159),(221.7,34.162),(222.4,34.154),
(223.4,34.165),(224.5,34.159),(225.5,34.148),(226.5,34.165),(227.5,34.159),(228.5,34.151),(229.5,34.157),(230.5,34.162),
(231.5,34.159),(232.6,34.165),(233.6,34.157),(234.6,34.154),(235.6,34.159),(236.9,34.151),(238.1,34.148),(239.4,34.143),
(240.7,34.143),(241.9,34.146),(243.2,34.148),(244.5,34.154),(245.7,34.159),(247.0,34.165),(247.7,34.173),(248.8,34.168),
(249.8,34.159),(250.8,34.157),(252.1,34.154),(253.3,34.148),(254.6,34.143),(255.9,34.137),(257.1,34.135),(258.4,34.137),
(259.7,34.143),(260.4,34.148),(261.4,34.146),(262.4,34.140),(263.4,34.126),(264.7,34.132),(266.0,34.115),(267.0,34.110),
(268.0,34.115),(269.0,34.121),(270.0,34.115),(271.0,34.126),(272.1,34.143),(273.1,34.146),(274.1,34.148),(275.1,34.159),
(276.1,34.165),(277.1,34.154),(278.1,34.143),(279.1,34.132),(280.2,34.140),(281.2,34.137),(282.2,34.121),(283.2,34.115),
(284.2,34.126),(285.2,34.137),(286.2,34.148),(287.5,34.143),(288.8,34.157),(290.0,34.165),(291.3,34.170),(292.6,34.168),
(293.8,34.173),(295.1,34.162),(296.4,34.170),(297.6,34.179),(298.9,34.176),(300.2,34.168),(301.4,34.170),(302.7,34.162),
(304.0,34.159),(305.2,34.165),(306.5,34.159),(307.5,34.137),(308.5,34.121),(309.5,34.124),(310.5,34.143),(311.6,34.148),
(312.8,34.151),(314.1,34.146),(315.4,34.151),(316.6,34.148),(317.9,34.151),(319.2,34.146),(320.4,34.148),(321.7,34.151),
(322.9,34.148),(324.2,34.151),(325.5,34.154),(326.7,34.157),(328.0,34.154),(329.3,34.159),(330.5,34.165),(331.8,34.168),
(332.8,34.159),(333.8,34.159)]

m2_1707 = [(-0.8,34.070),(1.8,34.069),(4.3,34.073),(6.8,34.072),(9.4,34.076),(11.9,34.077),(14.4,34.077),(17.0,34.078),
(19.5,34.080),(22.0,34.077),(24.6,34.080),(25.8,34.083),(28.4,34.080),(30.9,34.084),(33.4,34.083),(35.9,34.085),(38.5,34.084),
(41.0,34.083),(43.5,34.083),(46.1,34.084),(48.6,34.084),(51.1,34.081),(53.7,34.083),(56.2,34.083),(58.7,34.083),(61.3,34.083),
(63.8,34.079),(66.3,34.078),(68.9,34.077),(71.4,34.074),(72.7,34.070),(73.9,34.073),(75.2,34.069),(76.5,34.066),(79.0,34.065),
(80.3,34.063),(81.5,34.062),(82.8,34.064),(84.1,34.066),(85.3,34.061),(86.6,34.055),(87.8,34.050),(89.1,34.047),(90.4,34.044),
(91.6,34.041),(92.9,34.045),(94.2,34.050),(95.4,34.047),(96.7,34.044),(98.0,34.047),(99.2,34.043),(100.5,34.041),
(101.8,34.040),(103.0,34.042),(104.3,34.043),(105.6,34.040),(106.8,34.041),(108.1,34.041),(109.4,34.039),(110.6,34.041),
(111.9,34.043),(113.2,34.040),(114.4,34.036),(115.7,34.030),(117.0,34.025),(118.2,34.028),(119.5,34.033),(120.8,34.039),
(122.0,34.043),(123.3,34.047),(124.6,34.044),(125.8,34.040),(127.1,34.033),(128.4,34.032),(129.6,34.034),(130.9,34.036),
(132.2,34.038),(133.4,34.036),(134.7,34.039),(135.9,34.040),(137.2,34.044),(138.5,34.047),(139.7,34.050),(141.0,34.051),
(142.3,34.050),(143.5,34.048),(144.8,34.051),(146.1,34.054),(147.3,34.052),(148.6,34.054),(149.9,34.052),(151.1,34.052),
(152.4,34.044),(153.7,34.040),(154.9,34.039),(156.2,34.038),(157.5,34.036),(158.7,34.036),(160.0,34.039),(161.3,34.036),
(162.5,34.033),(163.8,34.034),(164.7,34.033),(166.0,34.036),(167.2,34.030),(168.5,34.033),(169.8,34.036),(171.0,34.033),
(172.3,34.039),(173.6,34.041),(174.8,34.044),(176.1,34.041),(177.4,34.047),(178.6,34.041),(179.9,34.039),(181.2,34.041),
(182.4,34.036),(183.7,34.030),(184.9,34.028),(186.2,34.030),(187.5,34.033),(188.8,34.036),(190.0,34.039),(191.3,34.033),
(192.6,34.030),(193.8,34.036),(195.1,34.033),(196.3,34.039),(197.6,34.041),(198.9,34.036),(200.1,34.033),(201.4,34.028),
(202.7,34.039),(203.9,34.041),(205.2,34.036),(206.5,34.033),(207.7,34.036),(209.0,34.033),(210.3,34.034),(211.5,34.032),
(212.8,34.030),(214.1,34.033),(215.3,34.039),(216.6,34.041),(217.9,34.047),(219.1,34.050),(220.4,34.055),(221.7,34.052),
(222.9,34.050),(224.2,34.052),(225.5,34.058),(226.7,34.061),(228.0,34.058),(229.3,34.055),(230.5,34.056),(231.8,34.054),
(233.1,34.052),(234.3,34.051),(235.6,34.050),(236.9,34.047),(238.1,34.052),(239.4,34.050),(240.7,34.051),(241.9,34.050),
(243.2,34.052),(244.5,34.054),(245.7,34.055),(247.0,34.056),(248.3,34.052),(249.5,34.050),(250.8,34.047),(252.1,34.044),
(253.3,34.039),(254.6,34.033),(255.9,34.028),(257.1,34.039),(258.4,34.044),(259.7,34.041),(260.9,34.036),(262.2,34.039),
(263.4,34.028),(264.7,34.033),(266.0,34.039),(267.2,34.022),(268.5,34.019),(269.3,34.028),(270.0,34.019),(271.0,34.030),
(272.3,34.036),(273.6,34.039),(274.8,34.041),(276.1,34.044),(277.4,34.039),(278.6,34.030),(279.9,34.025),(281.2,34.022),
(282.4,34.025),(283.7,34.028),(285.0,34.030),(286.2,34.036),(287.5,34.044),(288.8,34.050),(290.0,34.052),(291.3,34.055),
(292.6,34.054),(293.8,34.052),(295.1,34.051),(296.4,34.052),(297.6,34.054),(298.9,34.052),(300.2,34.051),(301.4,34.052),
(302.7,34.050),(304.0,34.052),(305.2,34.050),(306.5,34.044),(307.8,34.039),(309.0,34.034),(310.3,34.033),(311.6,34.036),
(312.8,34.038),(314.1,34.036),(315.4,34.039),(316.6,34.040),(317.9,34.041),(319.2,34.043),(320.4,34.040),(321.7,34.041),
(322.9,34.044),(324.2,34.045),(325.5,34.044),(326.7,34.047),(328.0,34.048),(329.3,34.050),(330.5,34.051),(331.8,34.050),
(332.8,34.047),(333.8,34.047)]

m2_1918 = [(-0.8,33.957),(0.5,33.959),(1.8,33.957),(3.0,33.961),(4.3,33.962),(5.6,33.965),(6.8,33.966),(8.1,33.965),
(9.4,33.964),(10.6,33.966),(11.9,33.965),(13.2,33.963),(14.4,33.964),(15.7,33.966),(17.0,33.967),(18.2,33.968),(19.5,33.967),
(20.8,33.969),(22.0,33.973),(23.3,33.970),(24.6,33.973),(25.8,33.975),(27.1,33.973),(28.4,33.970),(29.6,33.974),(30.9,33.972),
(32.2,33.973),(33.4,33.975),(34.2,33.979),(34.9,33.974),(35.9,33.973),(37.2,33.972),(38.5,33.974),(39.7,33.973),(41.0,33.975),
(42.3,33.973),(43.5,33.976),(44.8,33.977),(46.1,33.974),(47.3,33.976),(48.6,33.975),(49.9,33.974),(51.1,33.975),(52.4,33.973),
(53.7,33.974),(54.9,33.975),(56.2,33.973),(57.5,33.972),(58.7,33.973),(60.0,33.974),(61.3,33.973),(62.5,33.972),(63.8,33.970),
(65.1,33.968),(66.3,33.967),(67.6,33.966),(68.9,33.963),(70.1,33.962),(71.4,33.959),(72.7,33.957),(73.9,33.955),(75.2,33.954),
(76.5,33.948),(77.2,33.944),(78.0,33.951),(79.0,33.954),(80.3,33.951),(81.5,33.949),(82.8,33.951),(84.1,33.952),(85.3,33.955),
(86.6,33.956),(87.6,33.945),(88.1,33.926),(88.6,33.940),(89.1,33.945),(90.4,33.946),(91.6,33.946),(92.9,33.948),(94.2,33.945),
(95.4,33.946),(96.7,33.944),(98.0,33.945),(99.2,33.943),(100.5,33.944),(101.8,33.943),(103.0,33.941),(104.3,33.940),
(105.6,33.941),(106.8,33.940),(108.1,33.941),(109.4,33.939),(110.6,33.940),(111.9,33.937),(113.2,33.934),(114.4,33.933),
(115.7,33.932),(117.0,33.930),(118.2,33.933),(119.5,33.937),(120.8,33.940),(122.0,33.943),(123.3,33.945),(124.6,33.946),
(125.8,33.944),(127.1,33.945),(128.4,33.946),(129.6,33.943),(130.9,33.944),(132.2,33.946),(133.4,33.947),(134.7,33.946),
(135.9,33.949),(137.2,33.951),(138.5,33.952),(139.7,33.950),(141.0,33.951),(142.3,33.953),(143.5,33.954),(144.8,33.954),
(146.1,33.955),(147.3,33.954),(148.6,33.952),(149.9,33.951),(151.1,33.950),(152.4,33.947),(153.7,33.945),(154.9,33.943),
(156.2,33.944),(157.5,33.945),(158.7,33.943),(160.0,33.943),(161.3,33.941),(162.5,33.940),(163.8,33.943),(164.7,33.945),
(166.0,33.946),(167.2,33.948),(168.5,33.945),(169.8,33.948),(171.0,33.951),(172.3,33.949),(173.6,33.946),(174.8,33.950),
(176.1,33.947),(177.4,33.945),(178.6,33.943),(179.9,33.945),(181.2,33.946),(182.4,33.943),(183.7,33.944),(184.9,33.945),
(186.2,33.937),(187.5,33.935),(188.8,33.940),(190.0,33.943),(191.3,33.945),(192.6,33.946),(193.8,33.944),(195.1,33.945),
(196.3,33.948),(197.6,33.946),(198.9,33.943),(200.1,33.945),(201.4,33.943),(202.7,33.941),(203.9,33.940),(205.2,33.941),
(206.5,33.945),(207.7,33.944),(209.0,33.943),(210.3,33.945),(211.5,33.946),(212.8,33.944),(214.1,33.945),(215.3,33.951),
(216.6,33.954),(217.9,33.952),(219.1,33.956),(220.4,33.961),(221.7,33.959),(222.9,33.957),(224.2,33.961),(225.5,33.959),
(226.7,33.962),(228.0,33.960),(229.3,33.957),(230.5,33.958),(231.8,33.959),(233.1,33.957),(234.3,33.956),(235.6,33.955),
(236.9,33.957),(238.1,33.959),(239.4,33.957),(240.7,33.956),(241.9,33.954),(243.2,33.955),(244.5,33.957),(245.7,33.959),
(247.0,33.962),(248.3,33.961),(249.5,33.959),(250.8,33.957),(252.1,33.955),(253.3,33.954),(254.6,33.952),(255.9,33.955),
(257.1,33.953),(258.4,33.952),(259.7,33.951),(260.9,33.950),(262.2,33.948),(263.4,33.946),(264.7,33.948),(266.0,33.946),
(267.2,33.945),(268.5,33.943),(269.8,33.944),(271.0,33.945),(272.3,33.943),(273.6,33.941),(274.8,33.942),(276.1,33.940),
(277.4,33.941),(278.6,33.940),(279.9,33.943),(281.2,33.945),(282.4,33.943),(283.7,33.946),(285.0,33.948),(286.2,33.951),
(287.5,33.952),(288.8,33.954),(290.0,33.955),(291.3,33.956),(292.6,33.957),(293.8,33.955),(295.1,33.956),(296.4,33.957),
(297.6,33.956),(298.9,33.957),(300.2,33.959),(301.4,33.958),(302.7,33.956),(304.0,33.959),(305.2,33.959),(306.5,33.955),
(307.8,33.951),(309.0,33.948),(310.3,33.951),(311.6,33.950),(312.8,33.949),(314.1,33.951),(315.4,33.952),(316.6,33.950),
(317.9,33.951),(319.2,33.952),(320.4,33.953),(321.7,33.954),(322.9,33.952),(324.2,33.954),(325.5,33.955),(326.7,33.954),
(328.0,33.955),(329.3,33.956),(330.5,33.957),(331.8,33.956),(332.8,33.957),(333.8,33.954)]

m1_series = [m1_272, m1_372, m1_572]
m1_colors = ["#a8a8a8", "#fdae6b", "#29b5e8"]
m1_ref_colors = ["#e0e0e0", "#fdd9bc", "#b5e4f6"]
m2_series = [m2_428, m2_639, m2_845, m2_1065, m2_1280, m2_1493, m2_1707, m2_1918]
m2_colors = ["#ababab", "#b35db3", "#29b5e8", "#c98a4e", "#72bf8c", "#f39ab8", "#8e7866", "#fdae6b"]
m2_ref_colors = ["#e0e0e0", "#e2b8e2", "#c2eaf9", "#e8cbb0", "#c0e2cb", "#f9d3e0", "#d2c8c0", "#fdd9bc"]

DAY_MS = 86400000.0
BASE_MS = pd.Timestamp(base_date).value / 1e6


def to_ms(days):
    return [BASE_MS + d * DAY_MS for d in days]


def style_axis(ax):
    ax.major_label_text_font = FONT
    ax.major_label_text_font_size = "11px"
    ax.major_label_text_color = "#222222"
    ax.axis_label_text_font = FONT
    ax.axis_label_text_font_size = "11px"
    ax.axis_label_text_font_style = "normal"
    ax.axis_label_text_color = "#222222"
    ax.axis_label_standoff = 0
    ax.major_label_standoff = 2
    ax.major_tick_in = 4
    ax.major_tick_out = 0
    ax.minor_tick_line_color = None
    ax.axis_line_color = "#222222"
    ax.major_tick_line_color = "#222222"


def make_panel(title, width, left, right, xlim, ylim, yticks, levels, depths, series, colors, ref_colors, s_day, s_val):
    p = figure(width=width, height=558, x_axis_type="datetime",
               x_range=Range1d(*to_ms(xlim)), y_range=Range1d(*ylim),
               output_backend="svg", toolbar_location=None,
               min_border_left=left, min_border_right=right, min_border_top=37, min_border_bottom=36,
               background_fill_color="white", border_fill_color="white")
    p.title.text = title
    p.title.align = "center"
    p.title.text_font = FONT
    p.title.text_font_size = "22px"
    p.title.text_font_style = "normal"
    p.title.text_color = "#111111"
    p.title.standoff = 0
    p.outline_line_color = "#222222"
    p.outline_line_width = 1.2

    month_ms = [pd.Timestamp(m).value / 1e6 for m in month_starts]
    p.xaxis.ticker = FixedTicker(ticks=month_ms)
    p.xaxis.formatter = CustomJSTickFormatter(args=dict(names=month_names), code="""
        const d = new Date(tick);
        const m = d.getUTCMonth();
        if (index == 0 || m == 0) { return names[m] + "\\n" + d.getUTCFullYear(); }
        return names[m];
    """)
    p.yaxis.ticker = FixedTicker(ticks=yticks)
    p.yaxis.formatter = CustomJSTickFormatter(code="""
        return tick.toFixed(3).replace(/0+$/, '').replace(/\\.$/, '');
    """)
    p.xaxis.axis_label = "Date"
    p.yaxis.axis_label = "Salinity"
    style_axis(p.xaxis[0])
    style_axis(p.yaxis[0])
    xa = p.xaxis[0]
    xa.major_label_text_line_height = 0.8
    xa.major_label_standoff = 1
    xa.axis_label_standoff = -12

    right_ax = LinearAxis(ticker=FixedTicker(ticks=sorted(levels)),
                          formatter=CustomJSTickFormatter(args=dict(levels=levels, depths=depths), code="""
        for (let i = 0; i < levels.length; i++) {
            if (Math.abs(tick - levels[i]) < 1e-6) { return depths[i]; }
        }
        return '';
    """))
    style_axis(right_ax)
    right_ax.major_label_standoff = 4
    p.add_layout(right_ax, "right")

    for g in [p.xgrid[0], p.ygrid[0]]:
        g.grid_line_color = "#9a9a9a"
        g.grid_line_dash = "1 3"
        g.grid_line_width = 1

    for lvl, rc in zip(levels, ref_colors):
        p.add_layout(Span(location=lvl, dimension="width", line_color=rc, line_width=1.3))

    for data, col in zip(series, colors):
        days = [d for d, _ in data]
        vals = [v for _, v in data]
        p.line(to_ms(days), vals, line_color=col, line_width=1)

    p.add_layout(Label(x=to_ms([s_day])[0], y=s_val, text="S", text_font=FONT, text_font_size="38px",
                       text_align="center", text_baseline="middle", text_color="#000000"))
    return p


p1 = make_panel("M1", 578, 55, 67, m1_xlim, m1_ylim, m1_yticks, m1_levels, m1_depths,
                m1_series, m1_colors, m1_ref_colors, 317, 34.589)
p2 = make_panel("M2", 578, 48, 80, m2_xlim, m2_ylim, m2_yticks, m2_levels, m2_depths,
                m2_series, m2_colors, m2_ref_colors, 319.7, 34.670)

p = row(p1, p2)
open("out.html", "w").write(file_html(p, INLINE))
